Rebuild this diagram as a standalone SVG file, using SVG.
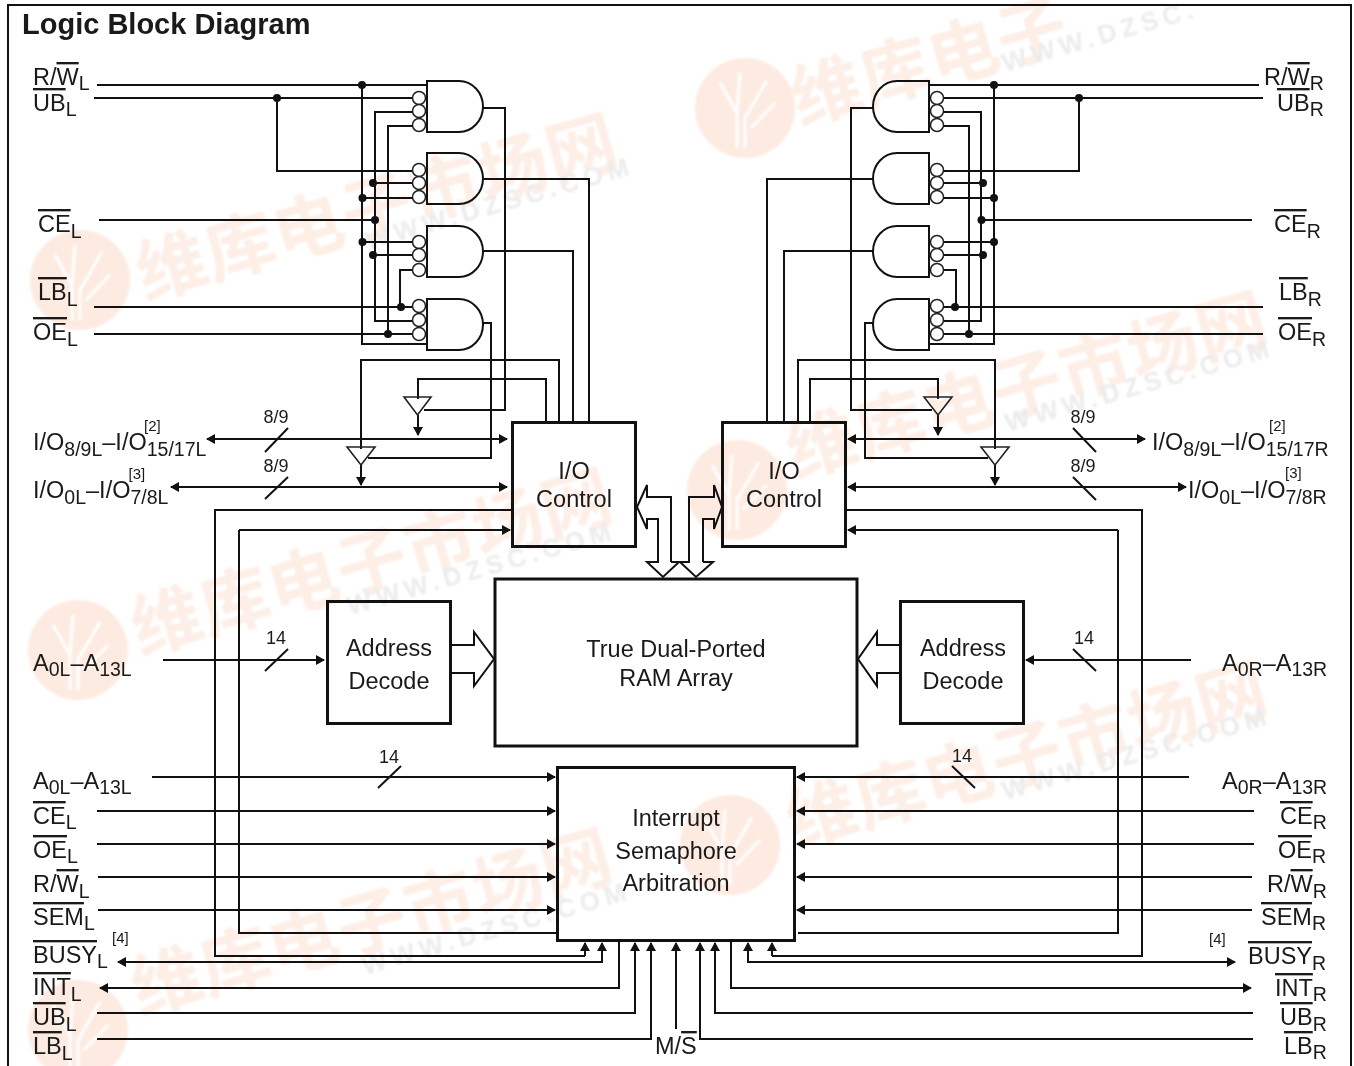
<svg xmlns="http://www.w3.org/2000/svg" width="1354" height="1066" viewBox="0 0 1354 1066">
<style>
text{font-family:"Liberation Sans",Arial,sans-serif;fill:#1a1a1a}
.t{font-size:23.5px}
.m{font-size:23.5px;text-anchor:middle}
.n{font-size:18px;text-anchor:middle}
.f{font-size:15px}
.h{font-size:29px;font-weight:bold}
.s{font-size:19.5px}
.o{text-decoration:overline;text-decoration-thickness:2px}
.w{fill:none;stroke:#111;stroke-width:2}
.a{marker-end:url(#ar)}
.b{marker-start:url(#ar);marker-end:url(#ar)}
.g{fill:none;stroke:#111;stroke-width:2}
.c{fill:#fff;stroke:#222;stroke-width:1.5}
.d{fill:#111}
.x{fill:none;stroke:#111;stroke-width:3}
.tr{fill:none;stroke:#222;stroke-width:1.6}
#watermark text.wm{font-family:"Noto Sans CJK SC",sans-serif;font-size:70px;font-weight:700;fill:#fdeee6;letter-spacing:1px}
#watermark text.wu{font-family:"Liberation Sans",sans-serif;font-size:26px;font-weight:700;fill:#ececec;letter-spacing:5px}
.lg{fill:#fdebe1}
.lt{fill:none;stroke:#fff;stroke-width:3}
</style>
<defs>
<filter id="soft" x="-5%" y="-5%" width="110%" height="110%"><feGaussianBlur stdDeviation="1.2"/></filter>
<marker id="ar" viewBox="0 0 9 10" refX="8" refY="5" markerWidth="9" markerHeight="10" markerUnits="userSpaceOnUse" orient="auto-start-reverse"><path d="M0 0L9 5L0 10Z" fill="#111"/></marker>
<path id="gl" d="M427 0H459A24 25.500 0 0 1 459 51H427Z"/>
<path id="gr" d="M929 0H897A24 25.500 0 0 0 897 51H929Z"/>
<g id="logo"><circle r="50" class="lg"/><path class="lt" d="M-8 40V5L-25-25M-8 5L-5-35M0 40V10L22-28M6 20L30-5"/></g>
</defs>

<g id="watermark" filter="url(#soft)">
<use href="#logo" x="80" y="280"/><use href="#logo" x="745" y="108"/><use href="#logo" x="737" y="490"/><use href="#logo" x="78" y="650"/><use href="#logo" x="730" y="845"/><use href="#logo" x="78" y="1030"/>
<text class="wm" transform="translate(145 300) rotate(-16)">维库电子市场网</text>
<text class="wu" transform="translate(368 250) rotate(-16)">WWW.DZSC.COM</text>
<text class="wm" transform="translate(800 125) rotate(-16)">维库电子</text>
<text class="wu" transform="translate(1005 72) rotate(-16)">WWW.DZSC.</text>
<text class="wm" transform="translate(795 478) rotate(-16)">维库电子市场网</text>
<text class="wu" transform="translate(1008 432) rotate(-16)">WWW.DZSC.COM</text>
<text class="wm" transform="translate(140 655) rotate(-16)">维库电子市场网</text>
<text class="wu" transform="translate(350 615) rotate(-16)">WWW.DZSC.COM</text>
<text class="wm" transform="translate(795 848) rotate(-16)">维库电子市场网</text>
<text class="wu" transform="translate(1005 800) rotate(-16)">WWW.DZSC.COM</text>
<text class="wm" transform="translate(140 1015) rotate(-16)">维库电子市场网</text>
<text class="wu" transform="translate(365 975) rotate(-16)">WWW.DZSC.COM</text>
</g>

<g id="frame"><path class="w" d="M8 1066V5H1351V1066"/></g>

<g id="connectors">
<!-- left logic inputs -->
<path class="w" d="M97 85H427M362 85V344H427M362 198H413M362 242H413"/>
<path class="w" d="M94 98H413M277 98V171H413"/>
<path class="w" d="M413 112H375V321H413M375 183H413M99 220H375M375 255H413"/>
<path class="w" d="M413 126H388V334M94 334H413"/>
<path class="w" d="M94 307H413M400 307V270H413"/>
<!-- left gate outputs -->
<path class="w" d="M483 108H505V410H424"/>
<path class="w" d="M483 179H589V422"/>
<path class="w" d="M483 251H573V422"/>
<path class="w" d="M483 323H491V458H368"/>
<path class="w" d="M418 399V379H546V422"/>
<path class="w" d="M361 449V360H559V422"/>
<path class="w a" d="M418 415V435"/>
<path class="w a" d="M361 465V485"/>
<!-- right logic inputs -->
<path class="w" d="M1259 85H929M994 85V344H929M994 198H943M994 242H943"/>
<path class="w" d="M1263 98H943M1079 98V171H943"/>
<path class="w" d="M943 112H981V321H943M981 183H943M1252 220H981M981 255H943"/>
<path class="w" d="M943 126H969V334M1263 334H943"/>
<path class="w" d="M1263 307H943M956 307V270H943"/>
<!-- right gate outputs -->
<path class="w" d="M873 108H851V410H932"/>
<path class="w" d="M873 179H767V422"/>
<path class="w" d="M873 251H784V422"/>
<path class="w" d="M873 323H865V458H988"/>
<path class="w" d="M938 399V379H810V422"/>
<path class="w" d="M995 449V360H798V422"/>
<path class="w a" d="M938 415V435"/>
<path class="w a" d="M995 465V485"/>
<!-- I/O buses -->
<path class="w b" d="M207 439H507"/><path class="w" d="M265 452L288 428"/>
<path class="w b" d="M171 487H507"/><path class="w" d="M265 499L288 477"/>
<path class="w b" d="M848 439H1145"/><path class="w" d="M1073 428L1096 452"/>
<path class="w b" d="M848 487H1186"/><path class="w" d="M1073 477L1096 500"/>
<!-- control rings -->
<path class="w" d="M512 510H215V956H585"/><path class="w a" d="M585 956V943"/>
<path class="w" d="M556 933H239V530"/><path class="w a" d="M239 530H510"/>
<path class="w" d="M846 510H1142V956H772"/><path class="w a" d="M772 956V943"/>
<path class="w" d="M798 933H1118V530"/><path class="w a" d="M1118 530H848"/>
<!-- block arrows -->
<path class="w" d="M671 562V497H647V485L637 507L647 529V519H658V562H647L663 577L679 562H671"/>
<path class="w" d="M703 562V519H714V529L722 507L714 485V497H689V562H680L696 577L713 562H703"/>
<path class="w" d="M451 645H474V632L494 659L474 686V673H451"/>
<path class="w" d="M900 645H877V632L858 659L877 686V673H900"/>
<!-- address -->
<path class="w a" d="M163 660H324"/><path class="w" d="M265 671L288 649"/>
<path class="w a" d="M1191 660H1026"/><path class="w" d="M1073 649L1096 671"/>
<path class="w a" d="M152 777H555"/><path class="w" d="M378 788L401 766"/>
<path class="w a" d="M1189 777H797"/><path class="w" d="M952 766L975 788"/>
<path class="w a" d="M97 811H555"/><path class="w a" d="M97 844H555"/><path class="w a" d="M98 877H555"/><path class="w a" d="M98 910H555"/>
<path class="w a" d="M1254 811H797"/><path class="w a" d="M1254 844H797"/><path class="w a" d="M1252 877H797"/><path class="w a" d="M1252 910H797"/>
<!-- bottom -->
<path class="w a" d="M619 941V988H100"/>
<path class="w b" d="M118 962H602V943"/>
<path class="w a" d="M97 1013H635V943"/>
<path class="w a" d="M97 1039H651V943"/>
<path class="w a" d="M676 1029V943"/>
<path class="w a" d="M1253 1039H700V943"/>
<path class="w a" d="M1253 1013H715V943"/>
<path class="w a" d="M731 941V988H1251"/>
<path class="w b" d="M1235 962H748V943"/>
</g>

<g id="junctions" class="d">
<circle cx="362" cy="85" r="4"/><circle cx="277" cy="98" r="4"/><circle cx="373" cy="183" r="4"/><circle cx="362.500" cy="198" r="4"/><circle cx="375" cy="220" r="4"/><circle cx="362.500" cy="242" r="4"/><circle cx="373" cy="255" r="4"/><circle cx="401" cy="307" r="4"/><circle cx="388" cy="334" r="4"/>
<circle cx="994" cy="85" r="4"/><circle cx="1079" cy="98" r="4"/><circle cx="983" cy="183" r="4"/><circle cx="994" cy="198" r="4"/><circle cx="981.500" cy="220" r="4"/><circle cx="994" cy="242" r="4"/><circle cx="983" cy="255" r="4"/><circle cx="955" cy="307" r="4"/><circle cx="969" cy="334" r="4"/>
</g>

<g id="gate-l1"><use href="#gl" y="81" class="g"/><circle class="c" cx="419" cy="98" r="6.500"/><circle class="c" cx="419" cy="111" r="6.500"/><circle class="c" cx="419" cy="125" r="6.500"/></g>
<g id="gate-l2"><use href="#gl" y="153" class="g"/><circle class="c" cx="419" cy="170" r="6.500"/><circle class="c" cx="419" cy="183" r="6.500"/><circle class="c" cx="419" cy="197" r="6.500"/></g>
<g id="gate-l3"><use href="#gl" y="226" class="g"/><circle class="c" cx="419" cy="242" r="6.500"/><circle class="c" cx="419" cy="255" r="6.500"/><circle class="c" cx="419" cy="270" r="6.500"/></g>
<g id="gate-l4"><use href="#gl" y="299" class="g"/><circle class="c" cx="419" cy="306" r="6.500"/><circle class="c" cx="419" cy="320" r="6.500"/><circle class="c" cx="419" cy="334" r="6.500"/></g>
<g id="gate-r1"><use href="#gr" y="81" class="g"/><circle class="c" cx="937" cy="98" r="6.500"/><circle class="c" cx="937" cy="111" r="6.500"/><circle class="c" cx="937" cy="125" r="6.500"/></g>
<g id="gate-r2"><use href="#gr" y="153" class="g"/><circle class="c" cx="937" cy="170" r="6.500"/><circle class="c" cx="937" cy="183" r="6.500"/><circle class="c" cx="937" cy="197" r="6.500"/></g>
<g id="gate-r3"><use href="#gr" y="226" class="g"/><circle class="c" cx="937" cy="242" r="6.500"/><circle class="c" cx="937" cy="255" r="6.500"/><circle class="c" cx="937" cy="270" r="6.500"/></g>
<g id="gate-r4"><use href="#gr" y="299" class="g"/><circle class="c" cx="937" cy="306" r="6.500"/><circle class="c" cx="937" cy="320" r="6.500"/><circle class="c" cx="937" cy="334" r="6.500"/></g>

<g id="buf-l1"><path class="tr" d="M404 397H431L417.500 415Z"/></g>
<g id="buf-l2"><path class="tr" d="M347 447H375L361 465Z"/></g>
<g id="buf-r1"><path class="tr" d="M924 397H952L938 415Z"/></g>
<g id="buf-r2"><path class="tr" d="M981 447H1009L995 465Z"/></g>

<g id="io-left"><rect class="x" x="512.500" y="422.500" width="123" height="124"/><text class="m" x="574" y="479">I/O</text><text class="m" x="574" y="507">Control</text></g>
<g id="io-right"><rect class="x" x="722.500" y="422.500" width="123" height="124"/><text class="m" x="784" y="479">I/O</text><text class="m" x="784" y="507">Control</text></g>
<g id="ram"><rect class="x" x="495" y="579" width="362" height="167"/><text class="m" x="676" y="657">True Dual-Ported</text><text class="m" x="676" y="686">RAM Array</text></g>
<g id="addr-left"><rect class="x" x="327.500" y="601.500" width="123" height="122"/><text class="m" x="389" y="656">Address</text><text class="m" x="389" y="689">Decode</text></g>
<g id="addr-right"><rect class="x" x="900.500" y="601.500" width="123" height="122"/><text class="m" x="963" y="656">Address</text><text class="m" x="963" y="689">Decode</text></g>
<g id="interrupt"><rect class="x" x="557.500" y="767.500" width="237" height="173"/><text class="m" x="676" y="826">Interrupt</text><text class="m" x="676" y="859">Semaphore</text><text class="m" x="676" y="891">Arbitration</text></g>

<g id="labels">
<text class="h" x="22" y="34">Logic Block Diagram</text>
<text class="t" x="33" y="85">R/<tspan class="o">W</tspan><tspan class="s" dy="5">L</tspan></text>
<text class="t" x="33" y="111"><tspan class="o">UB</tspan><tspan class="s" dy="5">L</tspan></text>
<text class="t" x="38" y="232"><tspan class="o">CE</tspan><tspan class="s" dy="6">L</tspan></text>
<text class="t" x="38" y="300"><tspan class="o">LB</tspan><tspan class="s" dy="6">L</tspan></text>
<text class="t" x="33" y="340"><tspan class="o">OE</tspan><tspan class="s" dy="6">L</tspan></text>
<text class="t" x="33" y="450">I/O<tspan class="s" dy="6">8/9L</tspan><tspan dy="-6">–I/O</tspan><tspan class="s" dy="6">15/17L</tspan></text>
<text class="f" x="144" y="431">[2]</text>
<text class="t" x="33" y="498">I/O<tspan class="s" dy="6">0L</tspan><tspan dy="-6">–I/O</tspan><tspan class="s" dy="6">7/8L</tspan></text>
<text class="f" x="128.500" y="479">[3]</text>
<text class="n" x="276" y="423">8/9</text><text class="n" x="276" y="472">8/9</text>
<text class="n" x="1083" y="423">8/9</text><text class="n" x="1083" y="472">8/9</text>
<text class="t" x="1152" y="450">I/O<tspan class="s" dy="6">8/9L</tspan><tspan dy="-6">–I/O</tspan><tspan class="s" dy="6">15/17R</tspan></text>
<text class="f" x="1269" y="431">[2]</text>
<text class="t" x="1188" y="498">I/O<tspan class="s" dy="6">0L</tspan><tspan dy="-6">–I/O</tspan><tspan class="s" dy="6">7/8R</tspan></text>
<text class="f" x="1285" y="478">[3]</text>
<text class="n" x="276" y="644">14</text><text class="n" x="1084" y="644">14</text>
<text class="n" x="389" y="763">14</text><text class="n" x="962" y="762">14</text>
<text class="t" x="33" y="671">A<tspan class="s" dy="5">0L</tspan><tspan dy="-5">–A</tspan><tspan class="s" dy="5">13L</tspan></text>
<text class="t" x="33" y="789">A<tspan class="s" dy="5">0L</tspan><tspan dy="-5">–A</tspan><tspan class="s" dy="5">13L</tspan></text>
<text class="t" x="33" y="824"><tspan class="o">CE</tspan><tspan class="s" dy="5">L</tspan></text>
<text class="t" x="33" y="858"><tspan class="o">OE</tspan><tspan class="s" dy="5">L</tspan></text>
<text class="t" x="33" y="892">R/<tspan class="o">W</tspan><tspan class="s" dy="6">L</tspan></text>
<text class="t" x="33" y="925"><tspan class="o">SEM</tspan><tspan class="s" dy="5">L</tspan></text>
<text class="t" x="33" y="963"><tspan class="o">BUSY</tspan><tspan class="s" dy="5">L</tspan></text>
<text class="f" x="112" y="943">[4]</text>
<text class="t" x="33" y="995"><tspan class="o">INT</tspan><tspan class="s" dy="6">L</tspan></text>
<text class="t" x="33" y="1025"><tspan class="o">UB</tspan><tspan class="s" dy="6">L</tspan></text>
<text class="t" x="33" y="1054"><tspan class="o">LB</tspan><tspan class="s" dy="6">L</tspan></text>
<text class="t" x="655" y="1054">M/<tspan class="o">S</tspan></text>
<text class="t" x="1264" y="85">R/<tspan class="o">W</tspan><tspan class="s" dy="5">R</tspan></text>
<text class="t" x="1277" y="111"><tspan class="o">UB</tspan><tspan class="s" dy="5">R</tspan></text>
<text class="t" x="1274" y="232"><tspan class="o">CE</tspan><tspan class="s" dy="6">R</tspan></text>
<text class="t" x="1279" y="300"><tspan class="o">LB</tspan><tspan class="s" dy="6">R</tspan></text>
<text class="t" x="1278" y="340"><tspan class="o">OE</tspan><tspan class="s" dy="6">R</tspan></text>
<text class="t" x="1222" y="671">A<tspan class="s" dy="5">0R</tspan><tspan dy="-5">–A</tspan><tspan class="s" dy="5">13R</tspan></text>
<text class="t" x="1222" y="789">A<tspan class="s" dy="5">0R</tspan><tspan dy="-5">–A</tspan><tspan class="s" dy="5">13R</tspan></text>
<text class="t" x="1280" y="824"><tspan class="o">CE</tspan><tspan class="s" dy="5">R</tspan></text>
<text class="t" x="1278" y="858"><tspan class="o">OE</tspan><tspan class="s" dy="5">R</tspan></text>
<text class="t" x="1267" y="892">R/<tspan class="o">W</tspan><tspan class="s" dy="6">R</tspan></text>
<text class="t" x="1261" y="925"><tspan class="o">SEM</tspan><tspan class="s" dy="5">R</tspan></text>
<text class="t" x="1248" y="964"><tspan class="o">BUSY</tspan><tspan class="s" dy="6">R</tspan></text>
<text class="f" x="1209" y="944">[4]</text>
<text class="t" x="1275" y="996"><tspan class="o">INT</tspan><tspan class="s" dy="5">R</tspan></text>
<text class="t" x="1280" y="1025"><tspan class="o">UB</tspan><tspan class="s" dy="6">R</tspan></text>
<text class="t" x="1284" y="1054"><tspan class="o">LB</tspan><tspan class="s" dy="5">R</tspan></text>
</g>
</svg>
